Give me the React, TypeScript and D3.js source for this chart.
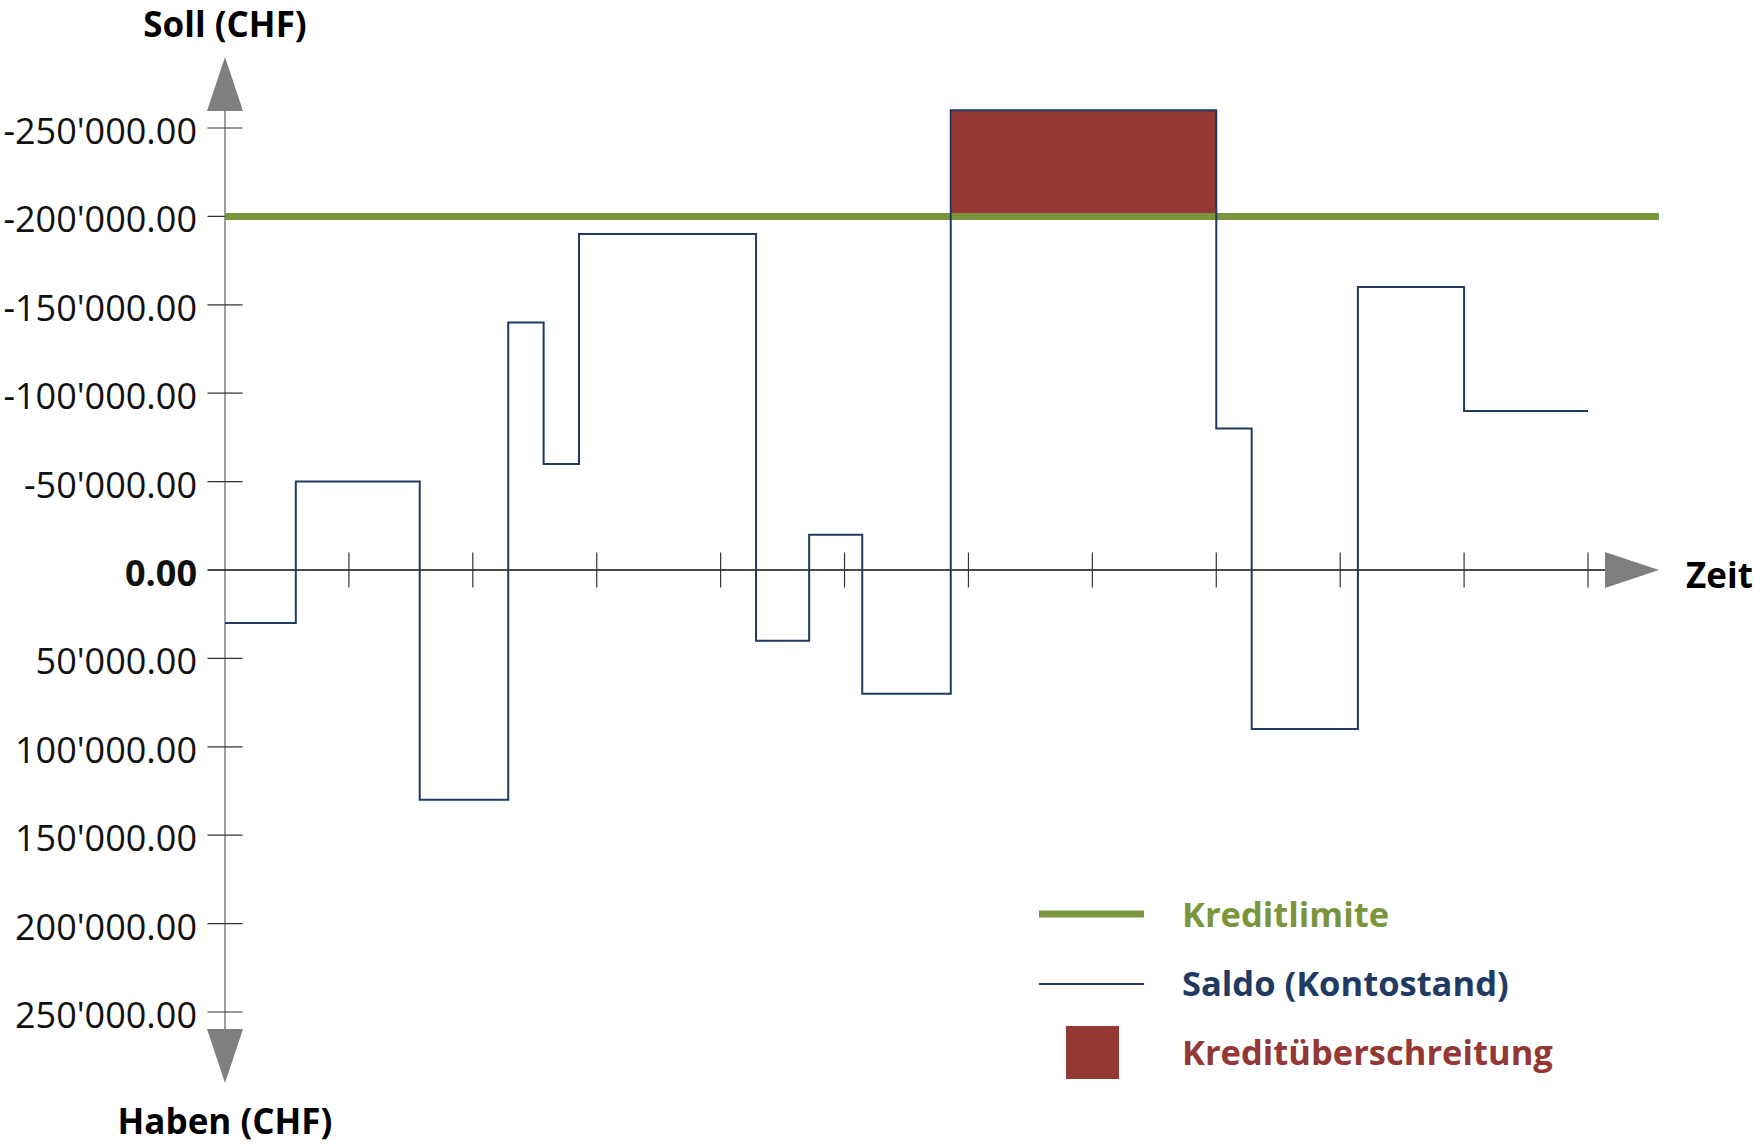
import React from "react";
import * as d3 from "d3";

// Saldo des Kontos (Tage seit Beginn, Betrag in CHF; negativ = Soll)
const days = [0, 4, 11, 16, 18, 20, 30, 33, 36, 41, 56, 58, 64, 70, 77];
const saldo = [
  30000, -50000, 130000, -140000, -60000, -190000, 40000, -20000, 70000,
  -260000, -80000, 90000, -160000, -90000, -90000,
];
const kreditlimite = -200000;
const yTicks = [-250000, -200000, -150000, -100000, -50000, 0, 50000, 100000, 150000, 200000, 250000];
const xTicks = [7, 14, 21, 28, 35, 42, 49, 56, 63, 70, 77];

const legendItems = [
  { label: "Kreditlimite", color: "#7a953b", kind: "thick" },
  { label: "Saldo (Kontostand)", color: "#1f3a63", kind: "thin" },
  { label: "Kreditüberschreitung", color: "#943735", kind: "box" },
];

const width = 1754;
const height = 1144;
const font = "'Open Sans', 'Noto Sans', sans-serif";

const chf = d3.formatLocale({
  decimal: ".",
  thousands: "'",
  grouping: [3],
  currency: ["CHF ", ""],
  minus: "-",
}).format(",.2f");

const App: React.FC = () => {
  const x = d3.scaleLinear().domain([0, 77]).range([225, 1588]);
  const y = d3.scaleLinear().domain([-250000, 250000]).range([128, 1012]);

  const pts = days.map((d, i) => ({ d, v: saldo[i] }));

  const line = d3
    .line<{ d: number; v: number }>()
    .x((p) => x(p.d))
    .y((p) => y(p.v))
    .curve(d3.curveStepAfter);

  // Überschreitung: Fläche zwischen Limite und Saldo, wo Saldo über dem Limit liegt
  const area = d3
    .area<{ d: number; v: number }>()
    .x((p) => x(p.d))
    .y0(y(kreditlimite))
    .y1((p) => y(Math.min(p.v, kreditlimite)))
    .curve(d3.curveStepAfter);

  const x0 = x.range()[0];
  const xEnd = x.range()[1];
  const yTop = y.range()[0];
  const yBot = y.range()[1];
  const yZero = y(0);
  const tick = 17.5;
  const arrowTip = 71;
  const arrowBase = 17;
  const arrowHalf = 18;

  return (
    <svg
      width={width}
      height={height}
      style={{ position: "absolute", left: 0, top: 0, background: "#fff" }}
      fontFamily={font}
    >
      {/* red overdraft area */}
      <path d={area(pts) ?? ""} fill="#943735" />

      {/* y axis */}
      <line x1={x0} x2={x0} y1={yTop - arrowBase} y2={yBot + arrowBase} stroke="#7f7f7f" strokeWidth={1.5} />
      <path
        d={`M${x0 - arrowHalf},${yTop - arrowBase}L${x0 + arrowHalf},${yTop - arrowBase}L${x0},${yTop - arrowTip}Z`}
        fill="#7f7f7f"
      />
      <path
        d={`M${x0 - arrowHalf},${yBot + arrowBase}L${x0 + arrowHalf},${yBot + arrowBase}L${x0},${yBot + arrowTip}Z`}
        fill="#7f7f7f"
      />
      {yTicks.map((t) => (
        <g key={t}>
          {t !== 0 && (
            <line x1={x0 - tick} x2={x0 + tick} y1={y(t)} y2={y(t)} stroke="#333" strokeWidth={1.2} />
          )}
          <text
            x={197}
            y={y(t) + 16}
            textAnchor="end"
            fontSize={36}
            fontWeight={t === 0 ? 700 : 400}
            fill="#111"
          >
            {chf(t)}
          </text>
        </g>
      ))}

      {/* x axis */}
      <line x1={x0 - tick} x2={xEnd + arrowBase} y1={yZero} y2={yZero} stroke="#111" strokeWidth={1.5} />
      <path
        d={`M${xEnd + arrowBase},${yZero - arrowHalf}L${xEnd + arrowBase},${yZero + arrowHalf}L${xEnd + arrowTip},${yZero}Z`}
        fill="#7f7f7f"
      />
      {xTicks.map((t) => (
        <line key={t} x1={x(t)} x2={x(t)} y1={yZero - tick} y2={yZero + tick} stroke="#333" strokeWidth={1.2} />
      ))}

      {/* credit limit */}
      <line
        x1={x0}
        x2={xEnd + arrowTip}
        y1={y(kreditlimite)}
        y2={y(kreditlimite)}
        stroke="#7a953b"
        strokeWidth={7}
      />

      {/* balance */}
      <path d={line(pts) ?? ""} fill="none" stroke="#1f3a63" strokeWidth={2} />

      {/* axis titles */}
      <text x={x0} y={37} textAnchor="middle" fontSize={35} fontWeight={700} fill="#000">
        Soll (CHF)
      </text>
      <text x={x0} y={1134} textAnchor="middle" fontSize={35} fontWeight={700} fill="#000">
        Haben (CHF)
      </text>
      <text x={1686} y={yZero + 18} fontSize={35} fontWeight={700} fill="#000">
        Zeit
      </text>

      {/* legend */}
      {legendItems.map((item, i) => {
        const cy = 914 + i * 69;
        return (
          <g key={item.label}>
            {item.kind === "thick" && (
              <line x1={1039} x2={1144} y1={cy} y2={cy} stroke={item.color} strokeWidth={7} />
            )}
            {item.kind === "thin" && (
              <line x1={1039} x2={1144} y1={cy + 1} y2={cy + 1} stroke={item.color} strokeWidth={2} />
            )}
            {item.kind === "box" && (
              <rect x={1066} y={cy - 26} width={53} height={53} fill={item.color} />
            )}
            <text x={1182} y={cy + 13} fontSize={34.5} fontWeight={700} fill={item.color}>
              {item.label}
            </text>
          </g>
        );
      })}
    </svg>
  );
};

export default App;
